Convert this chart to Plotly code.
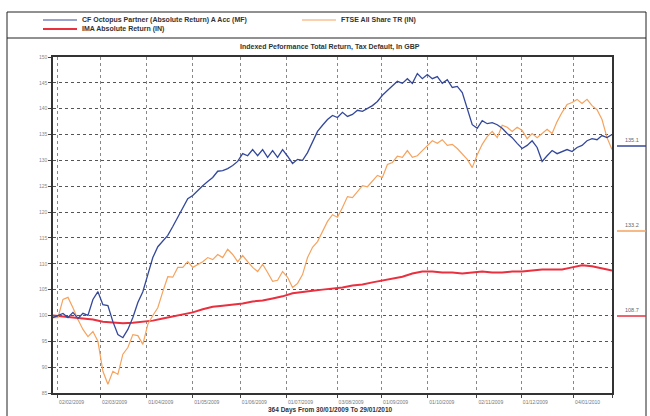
import pandas as pd
import plotly.graph_objects as go

# ---------------- data ----------------
start_date = "2009-01-30"
end_date = "2010-01-29"

cf_octopus = [99.6, 100.0, 100.4, 99.6, 100.6, 99.4, 100.4, 100.0, 103.1, 104.6,
              102.1, 101.9, 98.8, 96.3, 95.7, 97.3, 99.6, 102.5, 104.6, 107.9,
              111.2, 113.3, 114.3, 115.5, 117.2, 119.0, 120.9, 122.6, 123.2, 124.2,
              125.1, 125.9, 126.7, 127.9, 128.0, 128.4, 129.0, 129.8, 131.3, 130.9,
              132.1, 130.9, 132.1, 130.6, 131.9, 130.6, 132.1, 130.8, 129.4, 130.2,
              130.0, 131.5, 133.7, 135.6, 136.8, 137.9, 138.7, 138.3, 139.3, 138.5,
              138.9, 139.7, 139.5, 140.0, 140.6, 141.4, 142.6, 143.5, 144.5, 145.3,
              144.9, 145.8, 144.9, 146.8, 145.8, 146.6, 145.8, 146.2, 144.9, 145.6,
              144.1, 144.3, 143.1, 139.8, 136.9, 136.2, 137.7, 137.1, 137.3, 136.9,
              136.2, 135.2, 134.4, 133.3, 132.3, 132.9, 133.8, 132.5, 129.8, 130.9,
              131.9, 131.3, 131.7, 132.1, 131.7, 132.5, 132.9, 133.8, 134.2, 134.0,
              134.8, 134.4, 135.0]

ftse_all_share = [99.6, 99.6, 103.1, 103.5, 101.5, 99.2, 97.3, 95.9, 96.9, 95.0,
                  89.2, 86.7, 89.2, 88.6, 92.5, 93.8, 96.3, 96.1, 94.4, 98.3,
                  100.0, 101.5, 104.6, 107.5, 107.4, 109.3, 109.3, 110.4, 109.3, 109.9,
                  110.4, 111.2, 110.8, 111.8, 111.2, 112.8, 111.8, 110.4, 111.6, 110.4,
                  109.3, 108.5, 109.9, 108.3, 106.6, 106.8, 108.5, 107.4, 105.4, 106.2,
                  107.9, 111.2, 113.2, 114.3, 116.2, 118.2, 119.5, 119.0, 120.9, 123.0,
                  122.8, 124.0, 125.1, 124.9, 125.9, 127.1, 126.7, 129.2, 129.6, 130.8,
                  130.6, 131.9, 130.6, 130.9, 131.9, 132.9, 133.8, 133.3, 134.0, 132.9,
                  133.1, 132.3, 131.3, 130.2, 128.6, 131.1, 133.1, 134.6, 135.6, 134.4,
                  136.8, 136.4, 135.6, 136.4, 135.8, 134.2, 135.2, 134.4, 135.2, 136.0,
                  135.2, 137.5, 139.3, 140.8, 141.2, 141.8, 141.0, 141.8, 140.6, 139.8,
                  137.9, 134.4, 132.1]

ima_absolute = [100.0, 99.8, 99.6, 99.4, 99.2, 98.8, 98.6, 98.5, 98.6, 98.8,
                99.0, 99.4, 99.8, 100.2, 100.6, 101.2, 101.7, 101.9, 102.1, 102.3,
                102.7, 102.9, 103.3, 103.7, 104.3, 104.6, 104.8, 105.0, 105.2, 105.4,
                105.8, 106.0, 106.4, 106.8, 107.2, 107.5, 108.1, 108.5, 108.5, 108.3,
                108.3, 108.1, 108.3, 108.5, 108.3, 108.3, 108.5, 108.5, 108.7, 108.9,
                108.9, 108.9, 109.3, 109.7, 109.5, 109.1, 108.7]

series_names = ["CF Octopus Partner (Absolute Return) A Acc (MF)",
                "FTSE All Share TR (IN)",
                "IMA Absolute Return (IN)"]
end_labels = ["135.1", "133.2", "108.7"]

tick_dates = ["2009-02-02", "2009-03-02", "2009-04-01", "2009-05-01", "2009-06-01",
              "2009-07-01", "2009-08-03", "2009-09-01", "2009-10-01", "2009-11-02",
              "2009-12-01", "2010-01-04", "2010-01-29"]
tick_labels = ["02/02/2009", "02/03/2009", "01/04/2009", "01/05/2009", "01/06/2009",
               "01/07/2009", "03/08/2009", "01/09/2009", "01/10/2009", "02/11/2009",
               "01/12/2009", "04/01/2010", ""]
y_ticks = [85, 90, 95, 100, 105, 110, 115, 120, 125, 130, 135, 140, 145, 150]

title_text = "Indexed Peformance Total Return, Tax Default, In GBP"
footer_text = "364 Days From 30/01/2009 To 29/01/2010"

# ---------------- styling ----------------
BLUE = "#34489a"
ORANGE = "#f5a35e"
RED = "#ea2f3f"
FONT = "Liberation Sans"

W, H = 650, 416
L, R, T, B = 53, 612, 57, 393


def px_x(px):
    return (px - L) / (R - L)


def px_y(py):
    return (B - py) / (B - T)


def dates_for(vals):
    return pd.date_range(start_date, end_date, periods=len(vals))


fig = go.Figure()
fig.add_trace(go.Scatter(x=dates_for(ima_absolute), y=ima_absolute, mode="lines",
                         line=dict(color=RED, width=2), name=series_names[2]))
fig.add_trace(go.Scatter(x=dates_for(ftse_all_share), y=ftse_all_share, mode="lines",
                         line=dict(color=ORANGE, width=1.2), name=series_names[1]))
fig.add_trace(go.Scatter(x=dates_for(cf_octopus), y=cf_octopus, mode="lines",
                         line=dict(color=BLUE, width=1.3), name=series_names[0]))

shapes = []
annotations = []

# outer frame and legend separator
shapes.append(dict(type="rect", xref="paper", yref="paper",
                   x0=px_x(7), x1=px_x(646), y0=px_y(417), y1=px_y(12),
                   line=dict(color="#222", width=1)))
shapes.append(dict(type="line", xref="paper", yref="paper",
                   x0=px_x(7), x1=px_x(646), y0=px_y(38), y1=px_y(38),
                   line=dict(color="#222", width=1)))

# legend
legend_items = [(series_names[0], BLUE, 1.2, 43, 20),
                (series_names[2], RED, 2.2, 43, 29),
                (series_names[1], ORANGE, 1.2, 302, 20)]
for name, col, wid, lx, ly in legend_items:
    shapes.append(dict(type="line", xref="paper", yref="paper",
                       x0=px_x(lx), x1=px_x(lx + 34), y0=px_y(ly), y1=px_y(ly),
                       line=dict(color=col, width=wid)))
    annotations.append(dict(xref="paper", yref="paper", x=px_x(lx + 37), y=px_y(ly),
                            text="<b>" + name + "</b>", showarrow=False,
                            xanchor="left", yanchor="middle",
                            font=dict(family=FONT, size=7, color="#333")))

# title
annotations.append(dict(xref="paper", yref="paper", x=px_x(330), y=px_y(47),
                        text="<b>" + title_text + "</b>", showarrow=False,
                        xanchor="center", yanchor="middle",
                        font=dict(family=FONT, size=7, color="#333")))
# footer
annotations.append(dict(xref="paper", yref="paper", x=px_x(330), y=px_y(410),
                        text="<b>" + footer_text + "</b>", showarrow=False,
                        xanchor="center", yanchor="middle",
                        font=dict(family=FONT, size=6.5, color="#333")))

# end value markers on the right
marker_rows = [(end_labels[0], BLUE, 146), (end_labels[1], ORANGE, 231), (end_labels[2], RED, 316)]
for lab, col, py in marker_rows:
    shapes.append(dict(type="line", xref="paper", yref="paper",
                       x0=px_x(617), x1=px_x(646), y0=px_y(py), y1=px_y(py),
                       line=dict(color=col, width=1.5)))
    annotations.append(dict(xref="paper", yref="paper", x=px_x(641), y=px_y(py - 1),
                            text=lab, showarrow=False, xanchor="right", yanchor="bottom",
                            font=dict(family=FONT, size=5.5, color="#666")))

fig.update_layout(
    width=W, height=H,
    margin=dict(l=L, r=W - R, t=T, b=H - B),
    paper_bgcolor="white", plot_bgcolor="white",
    showlegend=False,
    shapes=shapes, annotations=annotations,
    font=dict(family=FONT, size=5, color="#777"),
)
fig.update_xaxes(
    range=[start_date, end_date],
    tickvals=tick_dates, ticktext=tick_labels,
    ticks="outside", ticklen=3, tickcolor="#444",
    ticklabelshift=14, ticklabelstandoff=0,
    tickfont=dict(family=FONT, size=5, color="#777"),
    showgrid=True, gridcolor="#888", griddash="dot", gridwidth=1,
    showline=True, linecolor="#333", linewidth=1.5, mirror=True,
    zeroline=False,
)
fig.update_yaxes(
    range=[85, 150],
    tickvals=y_ticks,
    ticks="outside", ticklen=3, tickcolor="#444",
    tickfont=dict(family=FONT, size=5, color="#888"),
    showgrid=True, gridcolor="#555", griddash="dot", gridwidth=1.3,
    showline=True, linecolor="#333", linewidth=1.5, mirror=True,
    zeroline=False,
)

fig.write_html("out.html",
               config={"displayModeBar": False},
               post_script="document.body.style.margin='0px';document.body.style.overflow='hidden';")
